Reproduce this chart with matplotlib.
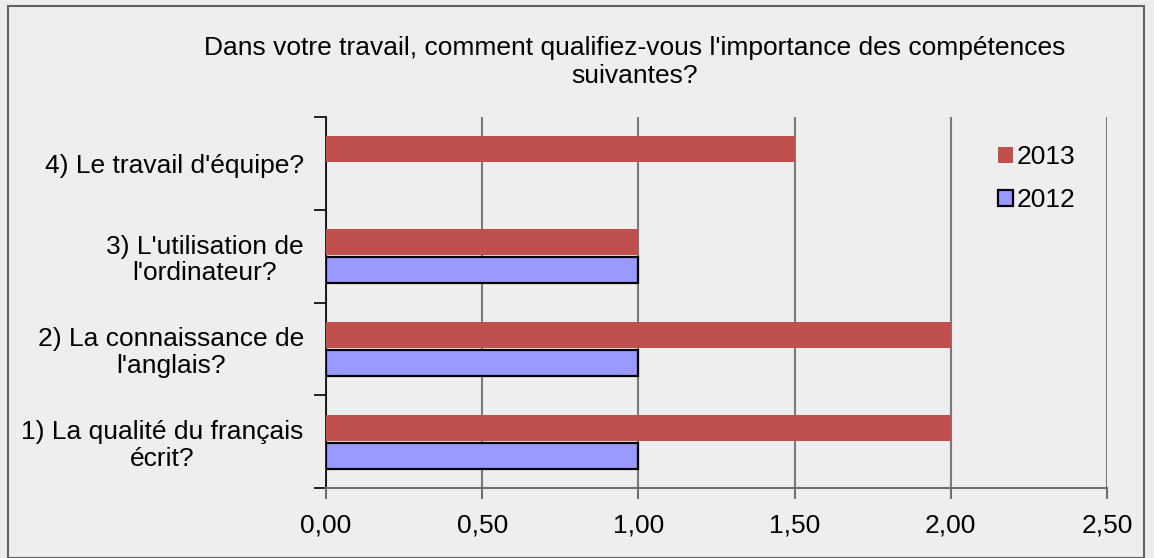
import matplotlib.pyplot as plt
from matplotlib.patches import Rectangle, Patch

plt.rcParams["font.family"] = ["Liberation Sans", "DejaVu Sans"]

categories = ["1) La qualité du français\nécrit?",
              "2) La connaissance de\nl'anglais?",
              "3) L'utilisation de\nl'ordinateur?",
              "4) Le travail d'équipe?"]
vals_2013 = [2.0, 2.0, 1.0, 1.5]
vals_2012 = [1.0, 1.0, 1.0, None]
xticks = [0.0, 0.5, 1.0, 1.5, 2.0, 2.5]
title = "Dans votre travail, comment qualifiez-vous l'importance des compétences\nsuivantes?"

RED = "#C0504D"
BLUE = "#9999FF"
BG = "#EEEEEE"

W, H = 1154, 558
fig = plt.figure(figsize=(W / 100, H / 100), dpi=100, facecolor=BG)
fig.patches.append(Rectangle((8 / W, 0), (W - 10) / W - 8 / W, 1 - 6 / H,
                             transform=fig.transFigure, fill=False,
                             edgecolor="#606060", linewidth=1.5))

ax = fig.add_axes([326 / W, 1 - 488 / H, (1107 - 326) / W, (488 - 117) / H])
ax.set_facecolor(BG)

pos = list(range(len(categories)))
h = 0.28
off = 0.15
ax.barh([p + off for p in pos], vals_2013, height=h, color=RED, label="2013", zorder=3)
y12 = [p - off for p, v in zip(pos, vals_2012) if v is not None]
v12 = [v for v in vals_2012 if v is not None]
ax.barh(y12, v12, height=h, color=BLUE, edgecolor="black", linewidth=1.6,
        label="2012", zorder=3)

ax.set_xlim(0, 2.5)
ax.set_ylim(-0.5, len(categories) - 0.5)
ax.set_xticks(xticks)
ax.set_xticklabels([f"{t:.2f}".replace(".", ",") for t in xticks], fontsize=19)
ax.set_yticks(pos)
ax.set_yticklabels(categories, fontsize=19, ha="right", multialignment="center",
                   linespacing=1.15)
ax.tick_params(axis="y", length=0, pad=16)
ax.set_yticks([p - 0.5 for p in pos] + [len(pos) - 0.5], minor=True)
ax.tick_params(axis="y", which="minor", length=9, width=1.2, color="black")
ax.tick_params(axis="x", length=8, width=1.5, color="#707070", pad=10)

ax.grid(axis="x", color="#7a7a7a", linewidth=1.5, zorder=0)
for s in ["top", "right"]:
    ax.spines[s].set_visible(False)
ax.spines["left"].set_color("black")
ax.spines["left"].set_linewidth(1.2)
ax.spines["bottom"].set_color("#707070")
ax.spines["bottom"].set_linewidth(1.5)

handles = [Patch(facecolor=RED, edgecolor="none", label="2013"),
           Patch(facecolor=BLUE, edgecolor="black", linewidth=1.6, label="2012")]
fig.legend(handles=handles, loc="upper left", bbox_to_anchor=(985 / W, 1 - 132 / H),
           frameon=False, fontsize=19, handlelength=0.55, handleheight=0.55,
           handletextpad=0.15, labelspacing=0.72, borderpad=0)

fig.text(635 / W, 1 - 62 / H, title, ha="center", va="center", fontsize=19,
         linespacing=1.2)

fig.savefig("out.png", dpi=100, facecolor=BG)
